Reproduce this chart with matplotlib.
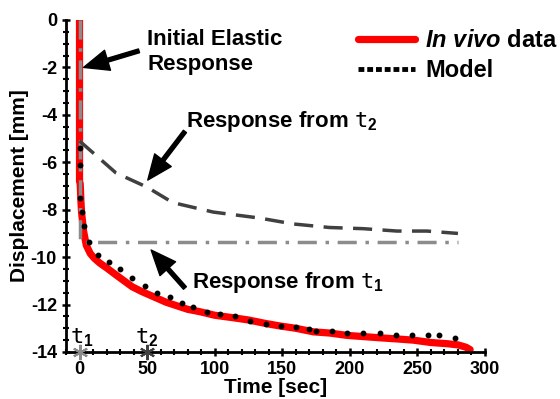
import matplotlib
matplotlib.use("Agg")
import matplotlib.pyplot as plt
from matplotlib.lines import Line2D

plt.rcParams['font.family'] = ['Liberation Sans', 'DejaVu Sans']
plt.rcParams['font.weight'] = 'bold'
plt.rcParams['axes.unicode_minus'] = False
plt.rcParams['mathtext.fontset'] = 'custom'
plt.rcParams['mathtext.rm'] = 'DejaVu Sans Mono:normal'
plt.rcParams['mathtext.it'] = 'Liberation Sans:italic:bold'
plt.rcParams['mathtext.bf'] = 'Liberation Sans:bold'

# In vivo data (time [s], displacement [mm])
vivo_t = [0, 0, 0.5, 1, 1.5, 3, 5, 8, 11, 15, 20, 27, 33, 39, 46, 52, 58, 64, 72, 80, 89,
          100, 113, 125, 138, 148, 160, 173, 185, 198, 210, 222, 235, 247, 260, 272, 280, 286, 289]
vivo_d = [0, -6.8, -6.9, -7.6, -8.1, -8.9, -9.5, -9.85, -10.05, -10.25, -10.45, -10.75, -11.0, -11.25,
          -11.45, -11.6, -11.75, -11.9, -12.05, -12.2, -12.3, -12.45, -12.55, -12.65, -12.8, -12.9,
          -13.0, -13.15, -13.2, -13.3, -13.35, -13.4, -13.45, -13.5, -13.6, -13.65, -13.7, -13.8, -13.9]

# Model points
model_t = [0, 0, 0, 1.5, 3.5, 6.7, 14, 22, 30, 39, 48.5, 57, 67, 76, 84, 94, 104, 115, 126, 138,
           149, 160, 170, 175, 187, 198, 210, 222, 234, 246, 258, 266, 278]
model_d = [-5.4, -6.1, -7.5, -8.1, -8.7, -9.35, -9.9, -10.2, -10.5, -10.9, -11.2, -11.5, -11.7,
           -11.95, -12.1, -12.3, -12.4, -12.5, -12.7, -12.8, -12.9, -12.95, -13.05, -13.1, -13.1,
           -13.2, -13.2, -13.2, -13.3, -13.3, -13.3, -13.3, -13.4]

# Response from t1 (elastic + relaxed plateau)
t1_t = [0, 0, 280]
t1_d = [0, -9.35, -9.35]

# Response from t2
t2_t = [0, 27, 50, 69, 99, 133, 158, 185, 210, 235, 257, 280]
t2_d = [-5.1, -6.45, -7.05, -7.7, -8.1, -8.35, -8.6, -8.75, -8.8, -8.9, -8.9, -9.0]

marker_t = [0, 50]
marker_d = [-14, -14]

fig = plt.figure(figsize=(5.6, 3.99), dpi=100)
ax = fig.add_axes([66/560, 1-352/399, (485-66)/560, (352-20)/399])

ax.plot(vivo_t, vivo_d, color='#ff0000', lw=5.2, solid_capstyle='round', solid_joinstyle='round', zorder=2)
ax.plot(model_t, model_d, 'o', color='black', ms=3.2, zorder=4)
ax.plot(t1_t, t1_d, color='#8c8c8c', lw=2.5, ls=(0, (5.5, 2.5, 1, 2.5)), zorder=3)
ax.plot(t2_t, t2_d, color='#404040', lw=2.5, ls=(0, (5.5, 3)), zorder=3)

ax.plot(marker_t[0], marker_d[0], marker=(6, 2, 0), color='#8c8c8c', ms=11, mew=1.5, clip_on=False, zorder=5)
ax.plot(marker_t[1], marker_d[1], marker=(6, 2, 0), color='#404040', ms=11, mew=1.5, clip_on=False, zorder=5)
ax.text(2, -13.4, r'$\mathrm{t}_{\mathbf{1}}$', fontsize=16, ha='center', va='center')
ax.text(50, -13.4, r'$\mathrm{t}_{\mathbf{2}}$', fontsize=16, ha='center', va='center')

ax.set_xlim(-10, 300)
ax.set_ylim(-14, 0)
ax.set_xticks([0, 50, 100, 150, 200, 250, 300])
ax.set_xticks(range(-10, 301, 10), minor=True)
ax.set_yticks(range(-14, 1, 2))
ax.set_yticks([v * 0.5 for v in range(-28, 1)], minor=True)
for s in ['top', 'right']:
    ax.spines[s].set_visible(False)
for s in ['left', 'bottom']:
    ax.spines[s].set_linewidth(2)
ax.tick_params(which='major', direction='inout', length=6, width=1.8, labelsize=13)
ax.tick_params(which='minor', direction='inout', length=4, width=1.5)
for lab in ax.get_xticklabels() + ax.get_yticklabels():
    lab.set_fontweight('bold')
ax.set_xlabel('Time [sec]', fontsize=15, fontweight='bold', labelpad=0)
ax.set_ylabel('Displacement [mm]', fontsize=15, fontweight='bold', labelpad=1)

arrow = dict(facecolor='black', edgecolor='black', width=2.8, headwidth=15, headlength=18, shrink=0)
ax.annotate('', xy=(3, -2.0), xytext=(44, -1.3), arrowprops=arrow)
ax.text(50, -1.35, 'Initial Elastic\nResponse', fontsize=16, fontweight='bold', ha='left', va='center',
        linespacing=1.25)
ax.annotate('', xy=(50.5, -6.75), xytext=(78, -4.7), arrowprops=arrow)
ax.text(79, -4.3, r'Response from $\mathrm{t}_{\mathbf{2}}$', fontsize=16, fontweight='bold', ha='left', va='center')
ax.annotate('', xy=(53, -9.7), xytext=(78, -11.3), arrowprops=arrow)
ax.text(83, -11.05, r'Response from $\mathrm{t}_{\mathbf{1}}$', fontsize=16, fontweight='bold', ha='left', va='center')

handles = [Line2D([], [], color='#ff0000', lw=5.2, solid_capstyle='round'),
           Line2D([], [], color='black', lw=3.5, ls=(0, (1.2, 0.6)))]
labels = [r'$\it{In\ vivo}$ data', 'Model']
fig.legend(handles, labels, loc='upper left', bbox_to_anchor=(358/560, 1-29/399), frameon=False,
           prop={'size': 17, 'weight': 'bold'}, handlelength=2.4, handletextpad=0.45, labelspacing=0.3,
           borderaxespad=0, borderpad=0)

fig.savefig('out.png', dpi=100)
